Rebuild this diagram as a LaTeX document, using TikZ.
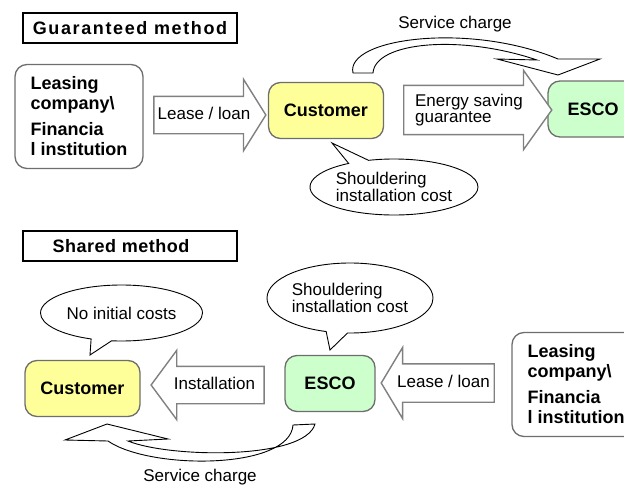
\documentclass[tikz,border=0pt]{standalone}
\usepackage{fontspec}
\setmainfont{Liberation Sans}
\usetikzlibrary{shapes.arrows, shapes.callouts, positioning}
\definecolor{custyellow}{RGB}{255, 255, 153}
\definecolor{escogreen}{RGB}{204, 255, 204}
\definecolor{edgegray}{RGB}{110, 110, 110}
\definecolor{arrowgray}{RGB}{128, 128, 128}
\tikzset{
  titlebox/.style={draw=black, line width=2.2pt, fill=white, minimum width=214pt, minimum height=30pt, inner sep=0pt, font=\fontsize{18}{20}\selectfont\bfseries},
  partybox/.style={draw=edgegray, line width=1.3pt, rounded corners=12pt, inner sep=0pt, font=\fontsize{18}{20}\selectfont\bfseries},
  leasebox/.style={partybox, fill=white, minimum width=128pt, minimum height=104pt, align=left},
  custbox/.style={partybox, fill=custyellow, minimum width=115pt, minimum height=56pt},
  escobox/.style={partybox, fill=escogreen, minimum width=90pt, minimum height=56pt},
  flowarrow/.style={single arrow, draw=arrowgray, line width=1.4pt, fill=white, inner xsep=0pt, font=\fontsize{17}{16}\selectfont, text height=12.5pt, text depth=3.5pt},
  bubble/.style={ellipse callout, draw=black, line width=0.9pt, fill=white, inner sep=0pt, align=left, font=\fontsize{17}{17}\selectfont},
  chargearrow/.style={draw=black, line width=0.9pt, fill=white, line join=miter},
  chargelabel/.style={font=\fontsize{17}{20}\selectfont}
}
\begin{document}
\begin{tikzpicture}[x=1pt, y=-1pt]
  \useasboundingbox (0,0) rectangle (624,485);
  \clip (0,0) rectangle (624,485);

  % Guaranteed method
  \node[titlebox] (title1) at (130,28) {\addfontfeature{LetterSpace=9}Guaranteed method};

  \node[leasebox] (lease1) at (79,116.5) {Leasing\\ company\textbackslash\\[6pt]Financia\\l institution};
  \node[custbox] (cust1) at (326,110.5) {Customer};
  \node[escobox] (esco1) at (593,109) {ESCO};

  \node[flowarrow, minimum height=112pt, inner ysep=10pt, single arrow head extend=17pt, single arrow tip angle=116] (loan1) at (204,115) {Lease / loan};
  \node[flowarrow, minimum height=148pt, inner ysep=8pt, text height=, text depth=, align=left, single arrow head extend=15pt, single arrow tip angle=109] (guar1) at (469,110) {Energy saving\\ guarantee};

  % service charge, customer to ESCO
  \draw[chargearrow] (353,73) .. controls (345,38) and (470,22) .. (558,59) -- (600,59) -- (558,75) -- (497,59) -- (537,60) .. controls (460,34) and (375,42) .. (373,73) -- cycle;
  \node[chargelabel] (charge1) at (455,24) {Service charge};

  \node[bubble, minimum width=168pt, minimum height=56pt, callout absolute pointer={(332,143)}] (cost1) at (394,187) {Shouldering\\ installation cost};

  % Shared method
  \node[titlebox] (title2) at (130,246) {\hspace*{-18pt}\addfontfeature{LetterSpace=3}Shared method};

  \node[custbox] (cust2) at (82.5,388.5) {Customer};
  \node[escobox] (esco2) at (330,383.5) {ESCO};
  \node[leasebox] (lease2) at (576,384.5) {Leasing\\ company\textbackslash\\[6pt]Financia\\l institution};

  \node[flowarrow, shape border rotate=180, minimum height=113pt, inner ysep=10pt, single arrow head extend=16pt, single arrow tip angle=107] (inst2) at (214.5,385) {Installation};
  \node[flowarrow, shape border rotate=180, minimum height=113pt, inner ysep=10.5pt, single arrow head extend=16.5pt, single arrow tip angle=118] (loan2) at (443.5,383) {Lease / loan};

  \node[bubble, minimum width=162pt, minimum height=56pt, callout absolute pointer={(90,355)}] (free2) at (121.5,313) {No initial costs};
  \node[bubble, minimum width=166pt, minimum height=70pt, callout absolute pointer={(330,350)}] (cost2) at (350,298) {Shouldering\\ installation cost};

  % service charge, ESCO to customer
  \draw[chargearrow] (293,425) .. controls (290,470) and (150,470) .. (108,441) -- (65,440) -- (107,424) -- (168,439) -- (128,441) .. controls (170,458) and (305,460) .. (315,424) -- cycle;
  \node[chargelabel] (charge2) at (200,477) {Service charge};
\end{tikzpicture}
\end{document}
